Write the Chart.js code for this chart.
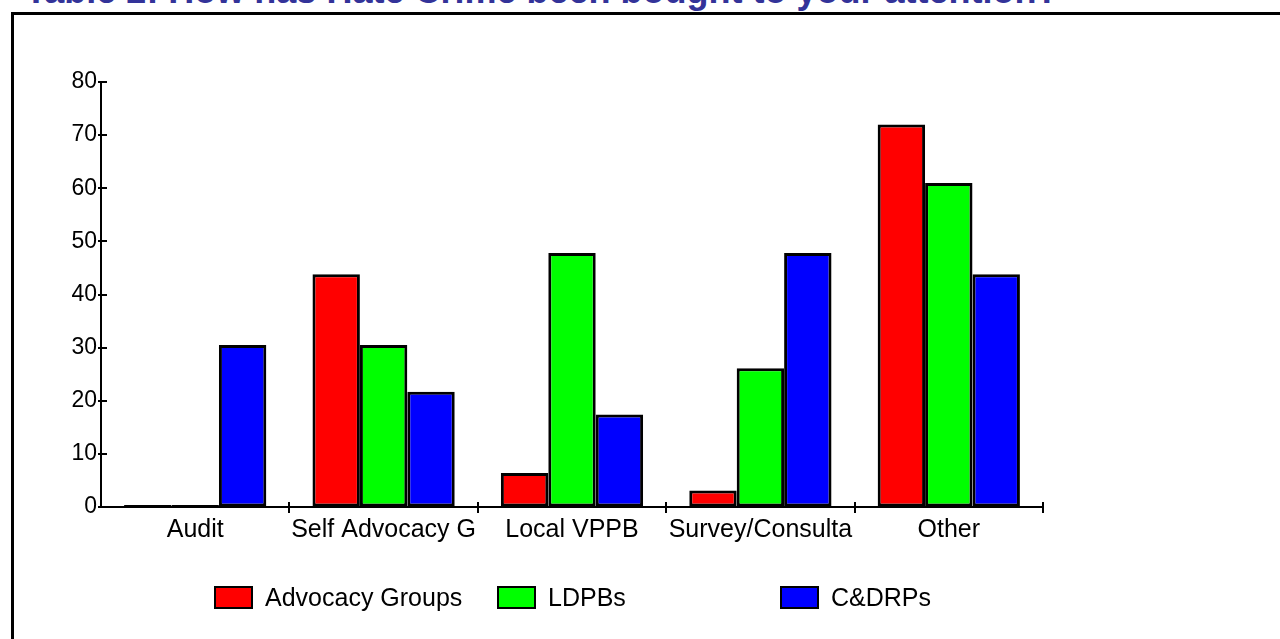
<!DOCTYPE html>
<html>
<head>
<meta charset="utf-8">
<script src="https://cdn.jsdelivr.net/npm/chart.js@4"></script>
<style>
  body { margin: 0; background: #fff; overflow: hidden; }
  #title { position: absolute; left: 25px; top: -27px; font: bold 36px "Liberation Sans", Arial, sans-serif; line-height: 36px; color: #333399; white-space: nowrap; }
  #frame { position: absolute; left: 11px; top: 12px; width: 1300px; height: 700px; border-left: 3px solid #000; border-top: 3px solid #000; background: #fff; }
  #wrap { position: absolute; left: 0; top: 0; width: 1280px; height: 639px; }
  #legend { position: absolute; top: 586px; left: 0; font: 25px "Liberation Sans", Arial, sans-serif; color: #000; }
  .item { position: absolute; white-space: nowrap; }
  .swatch { position: absolute; left: 0; top: 0; width: 35px; height: 19px; border: 2px solid #000; }
  .label { position: absolute; left: 51px; top: -1px; line-height: 25px; }
</style>
</head>
<body>
<div id="title">Table 2: How has Hate Crime been bought to your attention?</div>
<div id="frame"></div>
<div id="wrap"><canvas id="hateChart" width="1280" height="639"></canvas></div>
<div id="legend"></div>
<script>
// values
const categories = ['Audit', 'Self Advocacy G', 'Local VPPB', 'Survey/Consulta', 'Other'];
const seriesNames = ['Advocacy Groups', 'LDPBs', 'C&DRPs'];
const advocacyGroups = [0, 43.8, 6.4, 3.1, 72];
const ldpbs = [0, 30.5, 47.8, 26.1, 61];
const cdrps = [30.5, 21.7, 17.4, 47.8, 43.8];
const colors = ['#ff0000', '#00ff00', '#0000ff'];
const yTicks = [0, 10, 20, 30, 40, 50, 60, 70, 80];

const fontFamily = '"Liberation Sans", Arial, sans-serif';

// small tick marks that cross the axis lines
const tickMarks = {
  id: 'tickMarks',
  afterDraw(chart) {
    const { ctx, scales: { x, y } } = chart;
    ctx.save();
    ctx.strokeStyle = '#000';
    ctx.lineWidth = 2;
    ctx.beginPath();
    y.ticks.forEach((t, i) => {
      const py = Math.round(y.getPixelForTick(i));
      ctx.moveTo(y.right - 3, py);
      ctx.lineTo(y.right + 6, py);
    });
    for (let i = 1; i <= categories.length; i++) {
      const px = Math.round(x.getPixelForValue(i - 0.5));
      ctx.moveTo(px, x.top - 5);
      ctx.lineTo(px, x.top + 6);
    }
    ctx.stroke();
    ctx.restore();
  }
};

const datasets = [advocacyGroups, ldpbs, cdrps].map((vals, i) => ({
  label: seriesNames[i],
  data: vals,
  backgroundColor: colors[i],
  borderColor: '#000',
  borderWidth: 3,
  borderSkipped: false,
  minBarLength: 2,
  categoryPercentage: 0.755,
  barPercentage: 1.0
}));

const ctx = document.getElementById('hateChart').getContext('2d');

const hateChart = new Chart(ctx, {
  type: 'bar',
  data: { labels: categories, datasets: datasets },
  options: {
    responsive: false,
    animation: false,
    layout: { padding: { top: 82, right: 237, left: 0, bottom: 0 } },
    plugins: {
      legend: { display: false },
      tooltip: { enabled: false }
    },
    scales: {
      x: {
        grid: { display: true, drawOnChartArea: false, drawTicks: false },
        border: { display: true, color: '#000', width: 2 },
        ticks: { color: '#000', font: { family: fontFamily, size: 25 }, padding: 8, maxRotation: 0, autoSkip: false },
        afterFit(scale) { scale.height = 132; }
      },
      y: {
        min: 0,
        max: 80,
        afterBuildTicks(scale) { scale.ticks = yTicks.map(v => ({ value: v })); },
        grid: { display: true, drawOnChartArea: false, drawTicks: false },
        border: { display: true, color: '#000', width: 2 },
        ticks: { color: '#000', font: { family: fontFamily, size: 23 }, padding: 4 },
        afterFit(scale) { scale.width = 101; }
      }
    }
  },
  plugins: [tickMarks]
});

// legend in fixed columns, like the original
const legend = document.getElementById('legend');
hateChart.data.datasets.forEach((ds, i) => {
  const item = document.createElement('div');
  item.className = 'item';
  item.style.left = (214 + i * 283) + 'px';
  const sw = document.createElement('div');
  sw.className = 'swatch';
  sw.style.background = ds.backgroundColor;
  const lab = document.createElement('div');
  lab.className = 'label';
  lab.textContent = ds.label;
  item.appendChild(sw);
  item.appendChild(lab);
  legend.appendChild(item);
});
</script>
</body>
</html>
